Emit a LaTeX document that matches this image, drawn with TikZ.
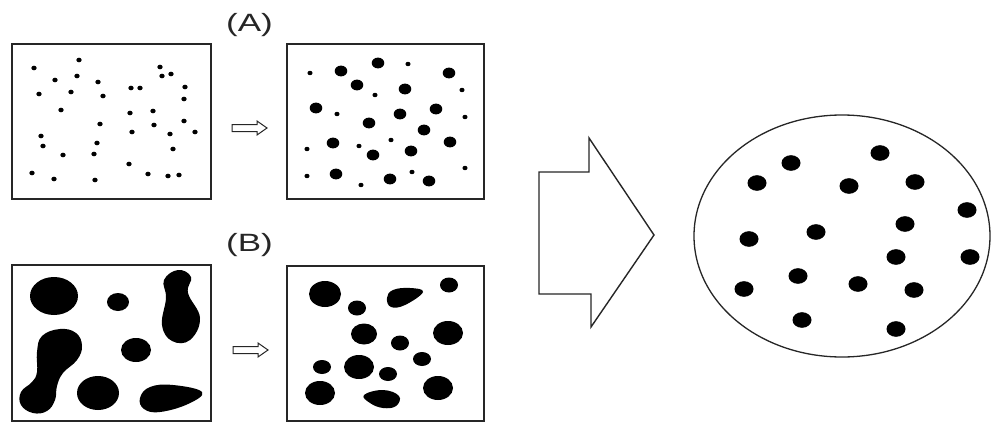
\documentclass[tikz,border=0pt]{standalone}
\usepackage{fontspec}
\setmainfont{Liberation Sans}
\begin{document}
\begin{tikzpicture}[x=1pt,y=-1pt,
  panel/.style={draw=black!85,line width=1.8pt},
  hollowarrow/.style={draw=black!85,line width=1pt,fill=white,line join=miter},
  lbl/.style={font=\fontsize{25}{26}\selectfont,inner sep=0pt,text=black!85}]
\useasboundingbox (0,0) rectangle (994,423);
% panels
\draw[panel] (12,44) rectangle (211,199);
\draw[panel] (287,44) rectangle (484,199);
\draw[panel] (12,265) rectangle (211,421);
\draw[panel] (287,266) rectangle (484,421);
\node[lbl] (la) at (249.5,25) {\scalebox{1.4}[1]{(A)}};
\node[lbl] (lb) at (249.5,245.5) {\scalebox{1.4}[1]{(B)}};
% small dots A1
\foreach \p in {(34,68),(79,60),(55,80),(77,76),(98,82),(39,94),(71,92),(103,96),(61,110),
(160,67),(162,76),(171,74),(131,88),(140,88),(185,87),(184,99),(130,113),(153,111),(100,124),
(154,125),(184,121),(195,132),(132,132),(170,134),(41,136),(43,146),(97,143),(173,149),(63,155),
(94,154),(129,164),(32,173),(54,179),(95,180),(148,174),(168,176),(179,175)}
  \fill \p ellipse [x radius=2.7pt,y radius=2.3pt];
% A2 big dots
\foreach \p in {(341,71),(378,63),(449,73),(357,85),(405,89),(316,108),(400,114),(436,109),
(369,123),(424,130),(333,143),(450,142),(373,155),(411,151),(336,174),(390,179),(429,181)}
  \fill \p ellipse [x radius=6.3pt,y radius=5.4pt];
% A2 small dots
\foreach \p in {(310,73),(408,64),(375,95),(462,90),(337,114),(465,117),(391,140),(307,149),
(359,146),(465,168),(307,176),(412,172),(361,185)}
  \fill \p ellipse [x radius=2.6pt,y radius=2.2pt];
% B1 blobs
\fill (54,296) ellipse [x radius=24pt,y radius=19pt];
\fill (118,302) ellipse [x radius=11pt,y radius=9pt];
\fill (136,350) ellipse [x radius=15pt,y radius=12pt];
\fill (98,393) ellipse [x radius=21pt,y radius=17pt];
\fill plot[smooth cycle,tension=0.7] coordinates {(60,329) (76,333) (82,346) (77,360) (63,373)
 (57,386) (55,400) (47,411) (33,413) (21,405) (21,392) (32,382) (37,372) (37,352) (42,336)};
\fill plot[smooth cycle,tension=0.7] coordinates {(178,270) (191,277) (188,293) (200,318)
 (190,340) (172,341) (162,325) (166,298) (164,280)};
\fill plot[smooth cycle,tension=0.7] coordinates {(140,398) (150,387) (173,385) (202,392)
 (188,404) (160,412) (144,409)};
% B2 blobs
\fill (325,294) ellipse [x radius=16pt,y radius=13pt];
\fill (449,285) ellipse [x radius=9pt,y radius=7.5pt];
\fill (357,308) ellipse [x radius=9pt,y radius=7.5pt];
\fill (364,334) ellipse [x radius=13pt,y radius=10.5pt];
\fill (448,333) ellipse [x radius=15pt,y radius=12pt];
\fill (400,343) ellipse [x radius=9pt,y radius=7.5pt];
\fill (422,359) ellipse [x radius=9pt,y radius=7pt];
\fill (322,367) ellipse [x radius=9pt,y radius=7pt];
\fill (359,367) ellipse [x radius=15pt,y radius=12pt];
\fill (388,374) ellipse [x radius=9pt,y radius=7pt];
\fill (320,393) ellipse [x radius=15pt,y radius=12pt];
\fill (438,388) ellipse [x radius=15pt,y radius=12pt];
\fill plot[smooth cycle,tension=0.7] coordinates {(387,298) (393,290) (410,288) (423,292)
 (405,305) (391,307)};
\fill plot[smooth cycle,tension=0.7] coordinates {(364,395) (383,390) (399,396) (396,406)
 (383,408) (370,403)};
% small hollow arrows
\draw[hollowarrow] (232,124.5) -- (257,124.5) -- (257,121) -- (267,128) -- (257,135)
  -- (257,131.5) -- (232,131.5) -- cycle;
\draw[hollowarrow] (233,346.5) -- (258,346.5) -- (258,343) -- (268,350) -- (258,357)
  -- (258,353.5) -- (233,353.5) -- cycle;
% big arrow
\draw[hollowarrow,line width=1.4pt] (539,172) -- (589,172) -- (589,138) -- (654,235)
  -- (591,327) -- (591,294) -- (539,294) -- cycle;
% circle
\draw[line width=1.3pt,black!85] (842,236) ellipse [x radius=148pt,y radius=121pt];
\foreach \p in {(791,163),(880,153),(757,183),(849,186),(915,182),(967,210),(905,224),
(816,232),(749,239),(896,257),(970,257),(798,276),(858,284),(744,289),(914,290),(802,320),(896,329)}
  \fill \p ellipse [x radius=9.5pt,y radius=7.8pt];
\end{tikzpicture}
\end{document}
